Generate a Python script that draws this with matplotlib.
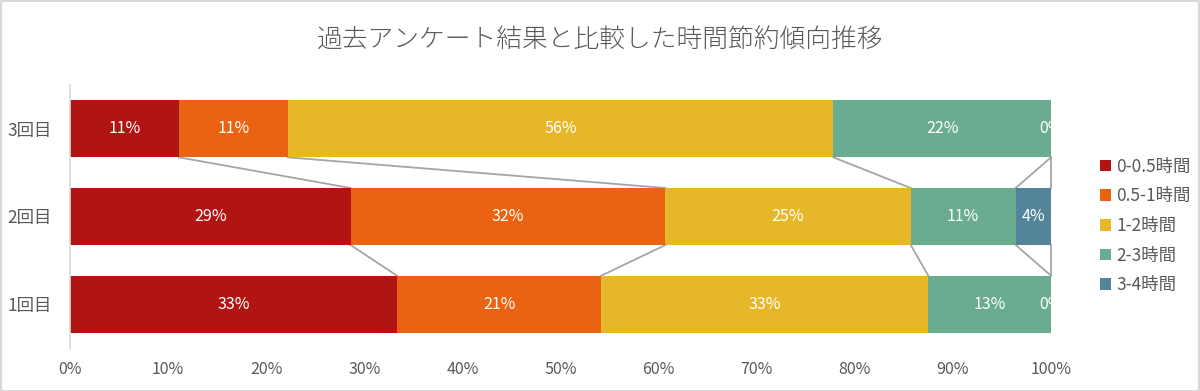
import matplotlib
matplotlib.use("Agg")
import matplotlib.pyplot as plt
from matplotlib.patches import Patch, Rectangle
from matplotlib.ticker import FuncFormatter

plt.rcParams['font.family'] = ['Noto Sans CJK JP', 'DejaVu Sans']

title = "過去アンケート結果と比較した時間節約傾向推移"
categories = ["1回目", "2回目", "3回目"]
series_names = ["0-0.5時間", "0.5-1時間", "1-2時間", "2-3時間", "3-4時間"]
s_0_05 = [33.3, 28.6, 11.1]
s_05_1 = [20.8, 32.1, 11.1]
s_1_2 = [33.3, 25.0, 55.6]
s_2_3 = [12.5, 10.7, 22.2]
s_3_4 = [0.0, 3.6, 0.0]
colors = ["#B01513", "#EA6312", "#E6B729", "#6AAC90", "#54849A"]

series = [s_0_05, s_05_1, s_1_2, s_2_3, s_3_4]
totals = [sum(s[i] for s in series) for i in range(len(categories))]

W, H = 1200, 391
fig = plt.figure(figsize=(W / 100, H / 100), dpi=100)
ax = fig.add_axes([70 / W, (H - 348) / H, (1051 - 70) / W, (348 - 85) / H])

ypos = list(range(len(categories)))
bar_h = 0.65
left = [0.0] * len(categories)
cums = []
for name, vals, c in zip(series_names, series, colors):
    fr = [v / t for v, t in zip(vals, totals)]
    ax.barh(ypos, fr, left=left, height=bar_h, color=c, label=name, zorder=2)
    for i, (f, l, v) in enumerate(zip(fr, left, vals)):
        pct = int(v / totals[i] * 100 + 0.5)
        ax.text(l + f / 2, ypos[i], f"{pct}%", ha="center", va="center",
                color="white", fontsize=11.5, clip_on=True, zorder=3)
    left = [l + f for l, f in zip(left, fr)]
    cums.append(list(left))

# series lines
for cum in cums:
    for i in range(len(categories) - 1):
        ax.plot([cum[i], cum[i + 1]], [ypos[i] + bar_h / 2, ypos[i + 1] - bar_h / 2],
                color="#A5A5A5", lw=1.3, zorder=1, clip_on=False)

ax.set_xlim(0, 1)
ax.set_ylim(-0.5, len(categories) - 0.5)
ax.set_yticks(ypos)
ax.set_yticklabels(categories)
ax.set_xticks([i / 10 for i in range(11)])
ax.xaxis.set_major_formatter(FuncFormatter(lambda x, p: f"{int(round(x * 100))}%"))
ax.tick_params(axis="both", length=0, colors="#595959", labelsize=11.5)
ax.tick_params(axis="y", labelsize=12.5, pad=13)
ax.tick_params(axis="x", pad=9)
for s in ["top", "right", "bottom"]:
    ax.spines[s].set_visible(False)
ax.spines["left"].set_color("#D9D9D9")
ax.spines["left"].set_linewidth(1.2)

fig.text(600 / W, 1 - 40 / H, title, ha="center", va="center",
         fontsize=18.5, color="#595959", fontweight="light")

handles = [Patch(facecolor=c, edgecolor="none") for c in colors]
fig.legend(handles, series_names, loc="center left", bbox_to_anchor=(1084 / W, 1 - 226 / H),
           frameon=False, fontsize=12.5, labelcolor="#595959", handlelength=0.65,
           handleheight=0.65, handletextpad=0.3, labelspacing=0.67)

fig.patches.append(Rectangle((0.5 / W, 0.5 / H), 1 - 1.5 / W, 1 - 1.5 / H, transform=fig.transFigure,
                             fill=False, edgecolor="#D9D9D9", lw=1.5))

fig.savefig("out.png", dpi=100)
